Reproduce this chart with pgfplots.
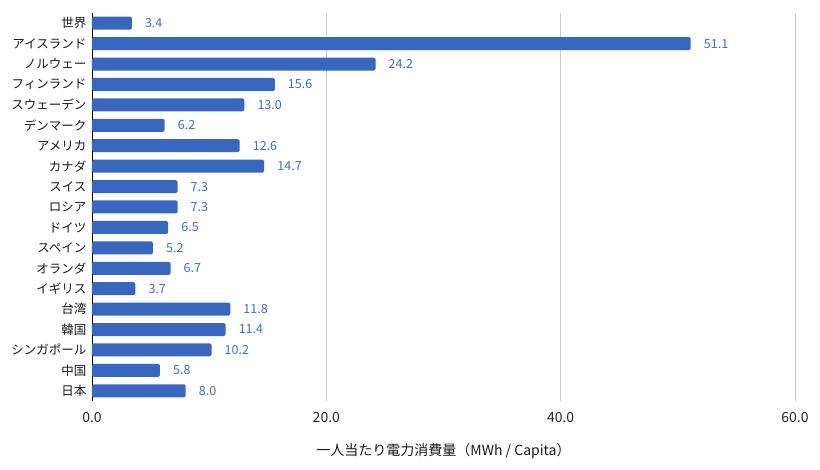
\documentclass[border=0pt]{standalone}
\usepackage{fontspec}
\setmainfont{Noto Sans CJK JP}
\usepackage{pgfplots}
\pgfplotsset{compat=1.18}
\definecolor{barblue}{HTML}{3967C0}
\definecolor{lblblue}{HTML}{3F6CC6}
\definecolor{gridgray}{HTML}{CCCCCC}

\begin{document}
\begin{tikzpicture}
\path[use as bounding box] (-92pt,-69pt) rectangle (728pt,401pt);
\begin{axis}[
    at={(0,0)}, anchor=south west,
    scale only axis,
    width=703pt, height=388pt,
    xbar, bar width=13pt, bar shift=0pt,
    xmin=0, xmax=60,
    ymin=-0.5, ymax=18.5,
    y dir=reverse,
    xtick={0,20,40,60},
    ytick={0,...,18},
    yticklabels={世界,アイスランド,ノルウェー,フィンランド,スウェーデン,デンマーク,アメリカ,カナダ,スイス,ロシア,ドイツ,スペイン,オランダ,イギリス,台湾,韓国,シンガポール,中国,日本},
    major tick length=0pt,
    axis x line*=bottom, axis y line*=left,
    x axis line style={draw=none},
    y axis line style={black, -},
    xmajorgrids, grid style={gridgray, line width=0.8pt},
    /pgf/number format/assume math mode=true,
    xticklabel={\pgfmathprintnumber[fixed,fixed zerofill,precision=1]{\tick}},
    xticklabel style={font=\fontsize{14}{16}\selectfont, yshift=-8pt, text=black!85},
    yticklabel style={font=\fontsize{12.5}{14}\selectfont, xshift=-2pt, text=black!90},
    xlabel={一人当たり電力消費量（MWh / Capita）},
    xlabel style={at={(axis description cs:0.5,0)}, anchor=center, yshift=-50pt, font=\fontsize{14}{16}\selectfont, text=black!90},
    nodes near coords,
    point meta=explicit,
    nodes near coords={\pgfmathprintnumber[fixed,fixed zerofill,precision=1]{\pgfplotspointmeta}},
    nodes near coords style={anchor=west, inner sep=0pt, xshift=13pt, text=lblblue, font=\fontsize{12.5}{14}\selectfont},
]
\addplot[fill=barblue, draw=none, rounded corners=1.5pt] coordinates {
(3.4,0) [3.4]
(51.1,1) [51.1]
(24.2,2) [24.2]
(15.6,3) [15.6]
(13.0,4) [13.0]
(6.2,5) [6.2]
(12.6,6) [12.6]
(14.7,7) [14.7]
(7.3,8) [7.3]
(7.3,9) [7.3]
(6.5,10) [6.5]
(5.2,11) [5.2]
(6.7,12) [6.7]
(3.7,13) [3.7]
(11.8,14) [11.8]
(11.4,15) [11.4]
(10.2,16) [10.2]
(5.8,17) [5.8]
(8.0,18) [8.0]
};
\end{axis}
\end{tikzpicture}
\end{document}
